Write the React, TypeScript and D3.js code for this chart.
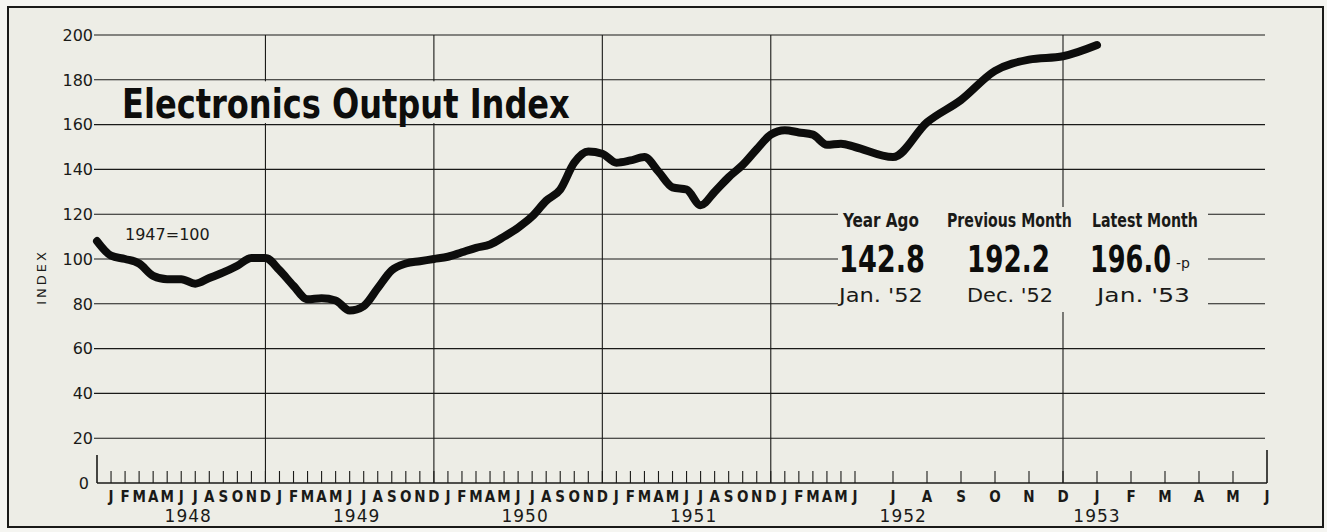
import React, { useRef, useEffect } from 'react';
import * as d3 from 'd3';

// Monthly electronics output index, Dec 1947 .. Jan 1953 (1947 = 100)
const indexValues = [
  108,                                                              // Dec 47
  101.5, 100, 98, 92.5, 91, 91, 89, 91.5, 94, 97, 100.5, 100.5,     // 1948
  95, 88, 82, 82.5, 81.5, 77, 79, 87, 95, 98, 99, 100,              // 1949
  101, 103, 105, 106.5, 110, 114, 119, 126, 131, 143, 148, 147,     // 1950
  143, 144, 145.5, 139, 132, 131, 124, 130, 136.5, 142, 149, 155.5, // 1951
  157.5, 156.5, 155.5, 151, 151.5, 150, 145.5, 161, 171, 184, 189, 190.5, // 1952
  195.5                                                             // Jan 53
];

const monthLetters = ['J', 'F', 'M', 'A', 'M', 'J', 'J', 'A', 'S', 'O', 'N', 'D'];
const yearLabels = ['1948', '1949', '1950', '1951', '1952', '1953'];
const yearLabelMonth = [6.5, 18.5, 30.5, 42.5, 55.3, 61];
const yearEndMonths = [12, 24, 36, 48, 60];
const yTicks = [0, 20, 40, 60, 80, 100, 120, 140, 160, 180, 200];

const statHeads = ['Year Ago', 'Previous Month', 'Latest Month'];
const statValues = ['142.8', '192.2', '196.0'];
const statDates = ["Jan. '52", "Dec. '52", "Jan. '53"];

const W = 1327;
const H = 532;
const paper = '#ededE6';
const ink = '#1a1a18';
const condensed = "'Liberation Sans Narrow', 'DejaVu Sans Condensed', 'Roboto Condensed', sans-serif";
const plain = "'DejaVu Sans', 'Open Sans', sans-serif";

// squeeze a text horizontally so it spans [left, left + width]
function fitText(t, left, baseline, width) {
  const natural = t.node().getComputedTextLength() || width;
  t.attr('x', 0).attr('y', 0)
    .attr('transform', `translate(${left},${baseline}) scale(${width / natural},1)`);
}

function App() {
  const svgRef = useRef(null);

  useEffect(() => {
    const svg = d3.select(svgRef.current);
    svg.selectAll('*').remove();

    // months counted from Dec 1947; the chart widens after June 1952
    const x = d3.scaleLinear().domain([0, 54, 55, 66]).range([97, 855, 893, 1267]);
    const y = d3.scaleLinear().domain([0, 200]).range([483, 35]);

    svg.append('rect').attr('width', W).attr('height', H).attr('fill', '#f5f5f1');
    svg.append('rect')
      .attr('x', 8).attr('y', 7).attr('width', 1315).attr('height', 520)
      .attr('fill', paper).attr('stroke', ink).attr('stroke-width', 2);

    const grid = svg.append('g').attr('stroke', ink).attr('stroke-width', 1.1);

    // horizontal grid
    grid.selectAll('.h')
      .data(yTicks.filter(d => d > 0))
      .enter().append('line')
      .attr('x1', 94).attr('x2', x(66) - 2)
      .attr('y1', d => y(d)).attr('y2', d => y(d));

    // baseline
    grid.append('line')
      .attr('x1', x(0)).attr('x2', x(66))
      .attr('y1', y(0)).attr('y2', y(0)).attr('stroke-width', 1.6);

    // year-end verticals
    grid.selectAll('.v')
      .data(yearEndMonths)
      .enter().append('line')
      .attr('x1', d => x(d)).attr('x2', d => x(d))
      .attr('y1', y(200)).attr('y2', y(0));

    // month ticks
    grid.selectAll('.t')
      .data(d3.range(1, 66))
      .enter().append('line')
      .attr('x1', d => x(d)).attr('x2', d => x(d))
      .attr('y1', y(0)).attr('y2', y(0) - 12);

    // end stubs
    grid.append('line').attr('x1', x(0)).attr('x2', x(0)).attr('y1', y(0)).attr('y2', y(0) - 28).attr('stroke-width', 1.6);
    grid.append('line').attr('x1', x(66)).attr('x2', x(66)).attr('y1', y(0)).attr('y2', y(0) - 33).attr('stroke-width', 1.6);

    // blank panels behind title and stats
    svg.append('rect').attr('x', 116).attr('y', y(180) + 1.5).attr('width', 460).attr('height', y(160) - y(180) - 3).attr('fill', paper);
    svg.append('rect').attr('x', 838).attr('y', 207).attr('width', 370).attr('height', 105).attr('fill', paper);

    // y labels
    svg.selectAll('.yl')
      .data(yTicks)
      .enter().append('text')
      .attr('x', d => d === 0 ? 89 : 93)
      .attr('y', d => y(d))
      .attr('dy', '0.36em')
      .attr('text-anchor', 'end')
      .style('font-family', plain)
      .style('font-size', '16px')
      .style('fill', ink)
      .text(d => d);

    svg.append('text')
      .attr('transform', 'translate(46,277) rotate(-90)')
      .attr('text-anchor', 'middle')
      .style('font-family', plain)
      .style('font-size', '13px')
      .style('letter-spacing', '3px')
      .style('fill', ink)
      .text('INDEX');

    svg.append('text')
      .attr('x', 125).attr('y', 240)
      .style('font-family', plain)
      .style('font-size', '16px')
      .style('fill', ink)
      .text('1947=100');

    // month letters
    svg.selectAll('.ml')
      .data(d3.range(1, 67))
      .enter().append('text')
      .attr('x', d => x(d))
      .attr('y', 502)
      .attr('text-anchor', 'middle')
      .style('font-family', condensed)
      .style('font-weight', 'bold')
      .style('font-size', '15px')
      .style('fill', ink)
      .text(d => monthLetters[(d - 1) % 12]);

    // year labels
    svg.selectAll('.yr')
      .data(yearLabels)
      .enter().append('text')
      .attr('x', (d, i) => x(yearLabelMonth[i]))
      .attr('y', 522)
      .attr('text-anchor', 'middle')
      .style('font-family', plain)
      .style('font-size', '17px')
      .style('letter-spacing', '1px')
      .style('fill', ink)
      .text(d => d);

    // title
    const title = svg.append('text')
      .style('font-family', condensed)
      .style('font-weight', 'bold')
      .style('font-size', '40px')
      .style('fill', '#0d0d0c')
      .text('Electronics Output Index');
    fitText(title, 122, 118, 448);

    // data line
    const line = d3.line()
      .x((d, i) => x(i))
      .y(d => y(d))
      .curve(d3.curveMonotoneX);

    svg.append('path')
      .datum(indexValues)
      .attr('d', line)
      .attr('fill', 'none')
      .attr('stroke', '#0d0d0c')
      .attr('stroke-width', 8)
      .attr('stroke-linejoin', 'round')
      .attr('stroke-linecap', 'round');

    // stats
    const headLeft = [843, 947, 1092];
    const headW = [76, 125, 106];
    const valLeft = [839, 967, 1090];
    const valW = [86, 83, 81];
    const dateLeft = [839, 967, 1097];
    const dateW = [84, 86, 93];

    statHeads.forEach((s, i) => {
      const h = svg.append('text')
        .style('font-family', condensed).style('font-weight', 'bold')
        .style('font-size', '19px').style('fill', ink)
        .text(s);
      fitText(h, headLeft[i], 227, headW[i]);

      const v = svg.append('text')
        .style('font-family', condensed).style('font-weight', 'bold')
        .style('font-size', '37px').style('fill', '#0d0d0c')
        .text(statValues[i]);
      fitText(v, valLeft[i], 272, valW[i]);

      const d = svg.append('text')
        .style('font-family', plain)
        .style('font-size', '20px').style('fill', ink)
        .text(statDates[i]);
      fitText(d, dateLeft[i], 302, dateW[i]);
    });

    svg.append('text')
      .attr('x', 1176).attr('y', 268)
      .style('font-family', plain)
      .style('font-size', '14px').style('fill', ink)
      .text('-p');
  }, []);

  return (
    <svg ref={svgRef} width={W} height={H} style={{ position: 'absolute', left: 0, top: 0 }}></svg>
  );
}

export default App;
